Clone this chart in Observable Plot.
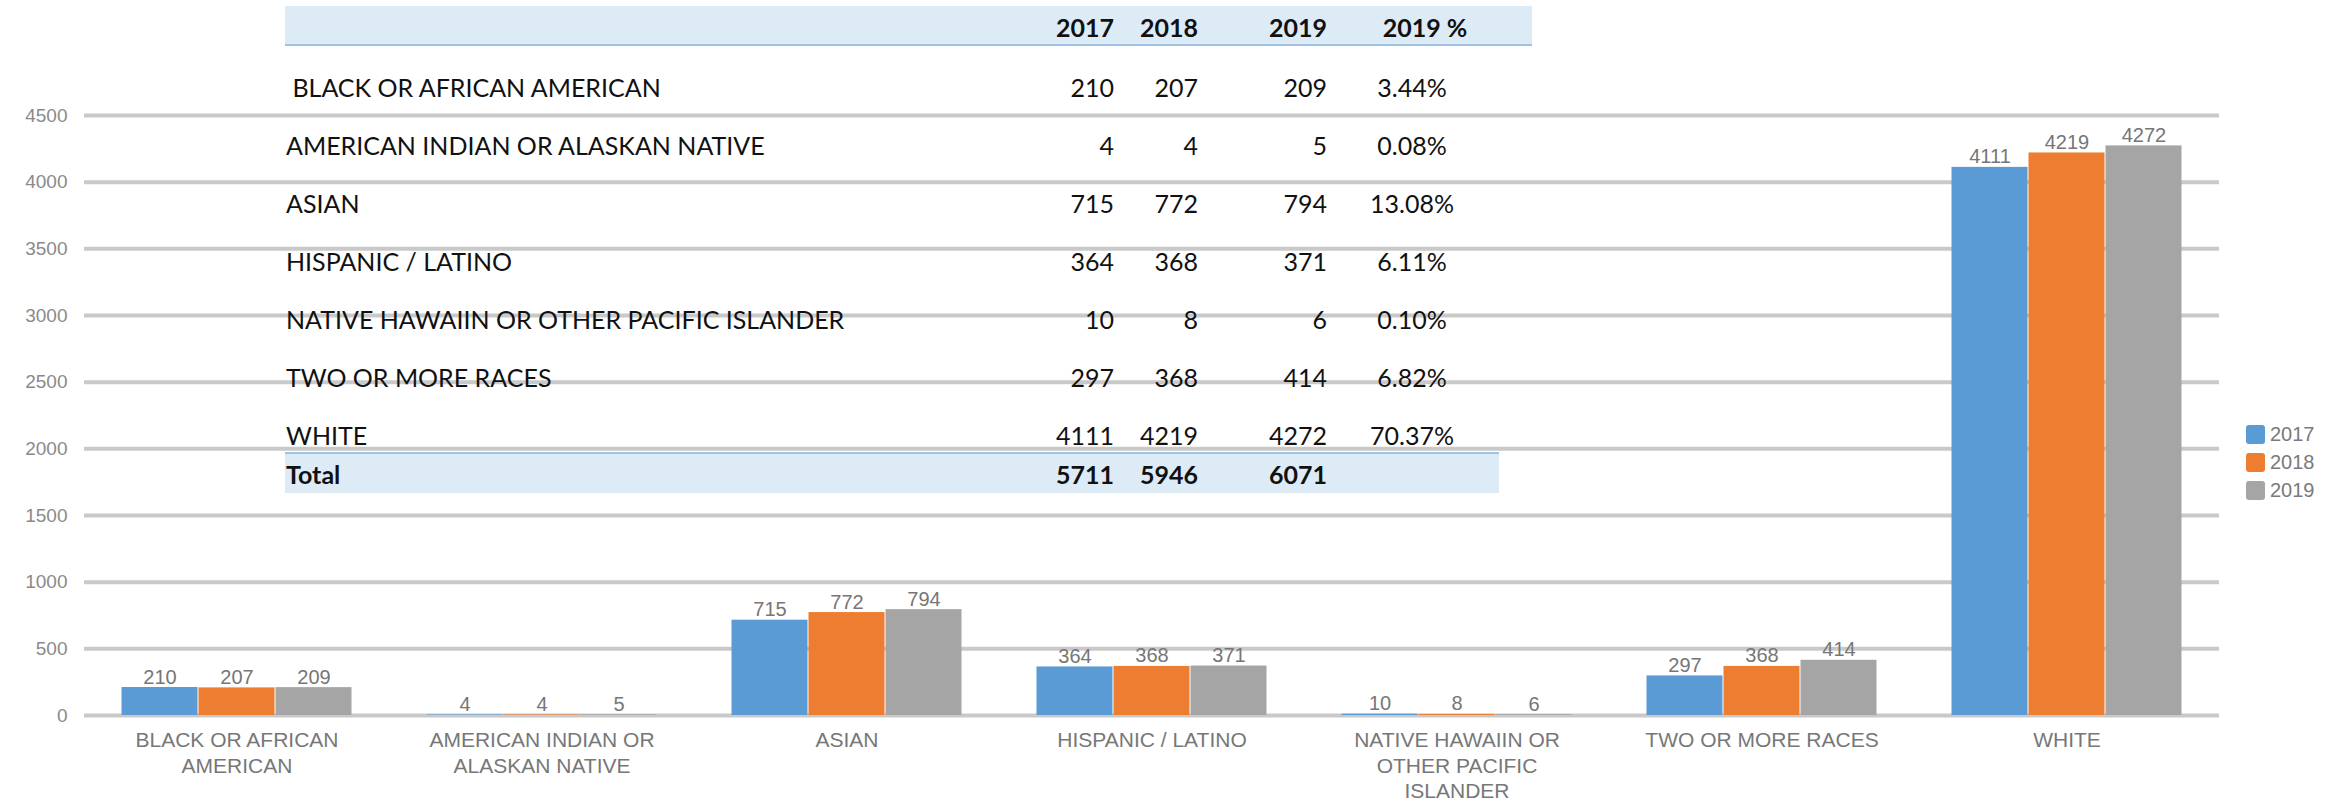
<!DOCTYPE html>
<html>
<head>
<meta charset="utf-8">
<script src="https://cdn.jsdelivr.net/npm/d3@7"></script>
<script src="https://cdn.jsdelivr.net/npm/@observablehq/plot@0.6"></script>
<style>
  html, body { margin: 0; padding: 0; background: #fff; }
  #wrap { position: relative; width: 2348px; height: 808px; overflow: hidden; }
  #wrap svg { position: absolute; left: 0; top: 0; }
  .band { position: absolute; background: #ddebf7; }
  .cell { position: absolute; height: 32px; line-height: 32px; font-family: Lato, "Noto Sans", sans-serif; font-size: 25px; color: #111; white-space: pre; }
  .bold { font-weight: bold; }
  #legend { position: absolute; left: 2246px; top: 420px; font-family: "Liberation Sans", Arial, sans-serif; font-size: 20px; color: #7a7a7a; }
  #legend .item { display: flex; align-items: center; height: 28px; }
  #legend .sw { width: 19px; height: 19px; border-radius: 3px; margin-right: 5px; }
</style>
</head>
<body>
<div id="wrap"></div>
<script>
// ---- data ----
const categories = ["BLACK OR AFRICAN AMERICAN", "AMERICAN INDIAN OR ALASKAN NATIVE", "ASIAN", "HISPANIC / LATINO", "NATIVE HAWAIIN OR OTHER PACIFIC ISLANDER", "TWO OR MORE RACES", "WHITE"];
const axisLabels = ["BLACK OR AFRICAN\nAMERICAN", "AMERICAN INDIAN OR\nALASKAN NATIVE", "ASIAN", "HISPANIC / LATINO", "NATIVE HAWAIIN OR\nOTHER PACIFIC\nISLANDER", "TWO OR MORE RACES", "WHITE"];
const tableLabels = [" BLACK OR AFRICAN AMERICAN", "AMERICAN INDIAN OR ALASKAN NATIVE", "ASIAN", "HISPANIC / LATINO", "NATIVE HAWAIIN OR OTHER PACIFIC ISLANDER", "TWO OR MORE RACES", "WHITE"];
const years = ["2017", "2018", "2019"];
const values2017 = [210, 4, 715, 364, 10, 297, 4111];
const values2018 = [207, 4, 772, 368, 8, 368, 4219];
const values2019 = [209, 5, 794, 371, 6, 414, 4272];
const pct2019 = ["3.44%", "0.08%", "13.08%", "6.11%", "0.10%", "6.82%", "70.37%"];
const totals = [5711, 5946, 6071];
const tableHeaders = ["2017", "2018", "2019", "2019 %"];
const yTicks = [0, 500, 1000, 1500, 2000, 2500, 3000, 3500, 4000, 4500];
const colors = ["#5b9bd5", "#ed7d31", "#a5a5a5"];

// ---- build table for Plot ----
const series = [values2017, values2018, values2019];
const data = [];
categories.forEach((c, i) => years.forEach((y, j) => data.push({category: c, year: y, value: series[j][i]})));
const labelOf = new Map(categories.map((c, i) => [c, axisLabels[i]]));

const chart = Plot.plot({
  width: 2348,
  height: 808,
  marginLeft: 82,
  marginRight: 128,
  marginTop: 115,
  marginBottom: 93,
  style: {fontFamily: "'Liberation Sans', Arial, sans-serif", fontSize: "19px", background: "transparent", color: "#888"},
  fx: {domain: categories, padding: 0, axis: null},
  x: {domain: years, paddingInner: 0, paddingOuter: 0.47, axis: null},
  y: {domain: [0, 4500], axis: null},
  color: {domain: years, range: colors},
  marks: [
    Plot.gridY(yTicks, {stroke: "#c9c9c9", strokeOpacity: 1, strokeWidth: 4}),
    Plot.barY(data, {fx: "category", x: "year", y: "value", fill: "year", insetLeft: 0.5, insetRight: 0.5}),
    Plot.text(data, {fx: "category", x: "year", y: "value", text: d => String(d.value), lineAnchor: "bottom", dy: -4, fontSize: 20, fill: "#767676"}),
    Plot.axisY({ticks: yTicks, tickSize: 0, tickPadding: 17, fontSize: 19, fill: "#8a8a8a", label: null, tickFormat: d => String(d)}),
    Plot.axisFx({anchor: "bottom", tickSize: 0, tickPadding: 14, fontSize: 21, lineHeight: 1.2, fill: "#777", label: null, tickFormat: d => labelOf.get(d)})
  ]
});
const wrap = document.getElementById("wrap");
wrap.appendChild(chart);

// ---- overlaid table ----
function band(left, top, width, height, border) {
  const b = document.createElement("div");
  b.className = "band";
  Object.assign(b.style, {left: left + "px", top: top + "px", width: width + "px", height: height + "px"}, border);
  wrap.appendChild(b);
}
band(285, 6, 1247, 38, {borderBottom: "2px solid #9dc3e6"});
band(285, 452, 1214, 39, {borderTop: "2px solid #9dc3e6"});

function cell(text, yc, opts) {
  const d = document.createElement("div");
  d.className = "cell" + (opts.bold ? " bold" : "");
  d.textContent = text;
  d.style.top = (yc - 16) + "px";
  if (opts.right !== undefined) { d.style.left = (opts.right - 160) + "px"; d.style.width = "160px"; d.style.textAlign = "right"; }
  else if (opts.center !== undefined) { d.style.left = (opts.center - 80) + "px"; d.style.width = "160px"; d.style.textAlign = "center"; }
  else { d.style.left = opts.left + "px"; }
  wrap.appendChild(d);
}
const colRight = [1114, 1198, 1327];
const pctCenter = 1412;
const rowY = [87, 145, 203, 261, 319, 377, 435];
tableHeaders.slice(0, 3).forEach((h, j) => cell(h, 27, {right: colRight[j], bold: true}));
cell(tableHeaders[3], 27, {center: 1425, bold: true});
tableLabels.forEach((lab, i) => {
  cell(lab, rowY[i], {left: 286});
  series.forEach((s, j) => cell(String(s[i]), rowY[i], {right: colRight[j]}));
  cell(pct2019[i], rowY[i], {center: pctCenter});
});
cell("Total", 474, {left: 286, bold: true});
totals.forEach((t, j) => cell(String(t), 474, {right: colRight[j], bold: true}));

// ---- legend ----
const leg = document.createElement("div");
leg.id = "legend";
years.forEach((y, j) => {
  const it = document.createElement("div");
  it.className = "item";
  const sw = document.createElement("div");
  sw.className = "sw";
  sw.style.background = colors[j];
  const t = document.createElement("span");
  t.textContent = y;
  it.appendChild(sw); it.appendChild(t);
  leg.appendChild(it);
});
wrap.appendChild(leg);
</script>
</body>
</html>
